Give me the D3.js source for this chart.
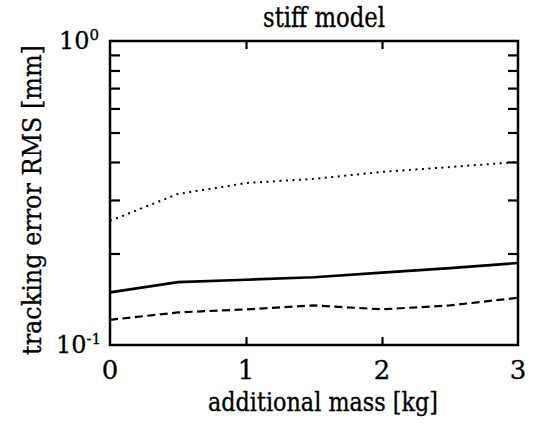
<!DOCTYPE html>
<html><head><meta charset="utf-8">
<script src="https://cdn.jsdelivr.net/npm/d3@7"></script>
<style>html,body{margin:0;padding:0;background:#fff}svg{display:block}</style>
</head><body>
<script>
const masses = [0, 0.5, 1, 1.5, 2, 2.5, 3];
const dottedSeries = [0.256, 0.314, 0.341, 0.352, 0.371, 0.385, 0.40];
const solidSeries  = [0.149, 0.161, 0.164, 0.167, 0.173, 0.179, 0.186];
const dashedSeries = [0.121, 0.128, 0.131, 0.135, 0.131, 0.135, 0.143];
const xTicks = [0, 1, 2, 3];
const yMinorTicks = [0.2, 0.3, 0.4, 0.5, 0.6, 0.7, 0.8, 0.9];
const titleText = "stiff model";
const xLabel = "additional mass [kg]";
const yLabel = "tracking error RMS [mm]";

const W = 541, H = 424;
const L = 110, R = 518, T = 41, B = 345;
const svg = d3.select("body").append("svg").attr("width", W).attr("height", H);
const x = d3.scaleLinear().domain([0, 3]).range([L, R]);
const y = d3.scaleLog().domain([0.1, 1]).range([B, T]);

svg.append("rect").attr("x", L).attr("y", T).attr("width", R - L).attr("height", B - T)
  .attr("fill", "none").attr("stroke", "#000").attr("stroke-width", 2.5);

const g = svg.append("g");
g.append("g").attr("transform", `translate(${L},0)`)
  .call(d3.axisRight(y).tickValues(yMinorTicks).tickSize(10).tickFormat(""));
g.append("g").attr("transform", `translate(${R},0)`)
  .call(d3.axisLeft(y).tickValues(yMinorTicks).tickSize(10).tickFormat(""));
g.append("g").attr("transform", `translate(0,${B})`)
  .call(d3.axisTop(x).tickValues([1, 2]).tickSize(8).tickFormat(""));
g.append("g").attr("transform", `translate(0,${T})`)
  .call(d3.axisBottom(x).tickValues([1, 2]).tickSize(8).tickFormat(""));
g.selectAll(".domain").remove();
g.selectAll(".tick line").attr("stroke", "#000").attr("stroke-width", 2.2);

const line = d3.line().x((d, i) => x(masses[i])).y(d => y(d));
svg.append("path").datum(dottedSeries).attr("d", line).attr("fill", "none")
  .attr("stroke", "#000").attr("stroke-width", 2).attr("stroke-dasharray", "2,4.5");
svg.append("path").datum(solidSeries).attr("d", line).attr("fill", "none")
  .attr("stroke", "#000").attr("stroke-width", 2.6);
svg.append("path").datum(dashedSeries).attr("d", line).attr("fill", "none")
  .attr("stroke", "#000").attr("stroke-width", 2.2).attr("stroke-dasharray", "8,4.5");

function txt(sel) {
  return sel.style("font-family", "'DejaVu Serif', serif")
    .attr("fill", "#000").attr("stroke", "#000").attr("stroke-width", 0.3);
}
function fit(t, w) {
  const len = t.node().getComputedTextLength();
  const fs = parseFloat(t.attr("font-size"));
  t.attr("font-size", fs * w / len);
}

xTicks.forEach(v => {
  txt(svg.append("text")).attr("x", x(v)).attr("y", 379).attr("text-anchor", "middle")
    .attr("font-size", 26).text(v);
});

[[1, "0", 49, 59], [0.1, "-1", 353, 56]].forEach(([v, e, by, lx]) => {
  const t = txt(svg.append("text")).attr("x", lx).attr("y", by).attr("font-size", 24);
  t.append("tspan").text("10");
  t.append("tspan").attr("font-size", 15).attr("dy", -9).text(e);
});

const tt = txt(svg.append("text"))
  .attr("transform", "translate(324,27) scale(1,1.2)").attr("text-anchor", "middle")
  .attr("font-size", 28).text(titleText);
fit(tt, 122);
const xl = txt(svg.append("text")).attr("transform", "translate(323,411) scale(1,1.18)")
  .attr("text-anchor", "middle").attr("font-size", 28).text(xLabel);
fit(xl, 230);
const yl = txt(svg.append("text")).attr("transform", "translate(41,200) rotate(-90) scale(1,1.12)")
  .attr("text-anchor", "middle").attr("font-size", 28).text(yLabel);
fit(yl, 310);
</script>
</body></html>
